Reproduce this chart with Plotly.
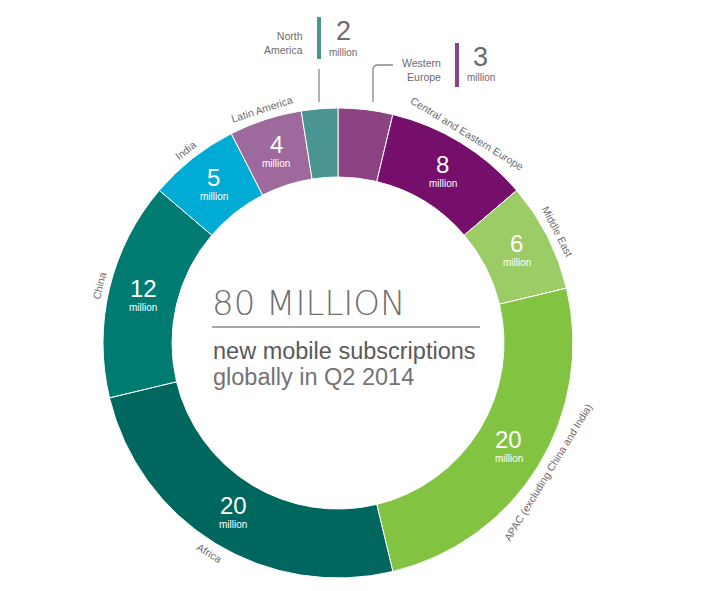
"""Donut chart: new mobile subscriptions by region, Q2 2014."""

import math

import plotly.graph_objects as go

regions = [
    "Western Europe",
    "Central and Eastern Europe",
    "Middle East",
    "APAC (excluding China and India)",
    "Africa",
    "China",
    "India",
    "Latin America",
    "North America",
]
subscriptions = [3, 8, 6, 20, 20, 12, 5, 4, 2]  # millions
colors = [
    "#8b4384",
    "#760f6b",
    "#9ccc65",
    "#82c341",
    "#00675f",
    "#007b72",
    "#00abd4",
    "#9e699d",
    "#4a9591",
]
# the two small slices get callouts above the ring instead of labels on it
callout_regions = ["North America", "Western Europe"]

W, H = 707, 591
CX, CY, R_OUT, R_IN = 338, 343, 235, 166
GREY = "#6b6b6b"
FONT = "Liberation Sans, Arial, sans-serif"


def px(x):
    return x / W


def py(y):
    return 1 - y / H


def label(x, y, text, size, color=GREY, **kw):
    d = dict(x=px(x), y=py(y), xref="paper", yref="paper", text=text,
             showarrow=False, xanchor="center", yanchor="middle",
             font=dict(family=FONT, size=size, color=color))
    d.update(kw)
    return d


fig = go.Figure(
    go.Pie(
        labels=regions,
        values=subscriptions,
        sort=False,
        direction="clockwise",
        rotation=0,
        hole=R_IN / R_OUT,
        marker=dict(colors=colors, line=dict(color="white", width=1)),
        textinfo="none",
        hoverinfo="label+value",
        showlegend=False,
        domain=dict(
            x=[px(CX - R_OUT), px(CX + R_OUT)],
            y=[py(CY + R_OUT), py(CY - R_OUT)],
        ),
    )
)

annotations = []
total = sum(subscriptions)
cum = 0
for name, val in zip(regions, subscriptions):
    mid = (cum + val / 2) / total * 360
    cum += val
    if name in callout_regions:
        continue
    rad = math.radians(mid)
    # value in the middle of the ring
    rm = (R_IN + R_OUT) / 2
    gx, gy = CX + rm * math.sin(rad), CY - rm * math.cos(rad)
    annotations.append(label(gx, gy - 8, str(val), 24, "white"))
    annotations.append(label(gx, gy + 11, "million", 10, "white"))
    # region name along the outside of the ring
    rl = R_OUT + 11
    lx, ly = CX + rl * math.sin(rad), CY - rl * math.cos(rad)
    angle = mid - 180 if 90 < mid < 270 else (mid if mid <= 90 else mid - 360)
    annotations.append(label(lx, ly, name, 10.5, textangle=angle))

# callouts for the two small slices
for name, val, bar_x, bar_y0, text_y in [
    ("North<br>America", 2, 319, 17, 43),
    ("Western<br>Europe", 3, 457, 43, 70),
]:
    annotations += [
        label(bar_x - 14, text_y, name, 10.5, xanchor="right", align="right"),
        label(bar_x + 24, bar_y0 + 14, str(val), 27),
        label(bar_x + 24, bar_y0 + 35, "million", 10),
    ]

shapes = [
    dict(type="line", xref="paper", yref="paper", x0=px(319), x1=px(319),
         y0=py(17), y1=py(59), line=dict(color=colors[8], width=4)),
    dict(type="line", xref="paper", yref="paper", x0=px(457), x1=px(457),
         y0=py(43), y1=py(87), line=dict(color=colors[0], width=4)),
    dict(type="line", xref="paper", yref="paper", x0=px(319), x1=px(319),
         y0=py(69), y1=py(102), line=dict(color="#888888", width=1.3)),
    dict(type="path", xref="paper", yref="paper",
         path=f"M {px(373)} {py(102)} L {px(373)} {py(70)} "
              f"Q {px(373)} {py(65)} {px(378)} {py(65)} L {px(393)} {py(65)}",
         line=dict(color="#888888", width=1.3)),
    # rule under the headline
    dict(type="line", xref="paper", yref="paper", x0=px(212), x1=px(480),
         y0=py(327), y1=py(327), line=dict(color="#8a8a8a", width=1.5)),
]

# headline in the hole
annotations += [
    label(210, 303, "80 MILLION", 34, xanchor="left",
          font=dict(family="DejaVu Sans, sans-serif", size=34, color="#707070", weight=200)),
    label(211, 351, "new mobile subscriptions", 23.5, "#5a5a5a", xanchor="left"),
    label(211, 377, "globally in Q2 2014", 23.5, "#737373", xanchor="left"),
]

fig.update_layout(
    width=W,
    height=H,
    margin=dict(l=0, r=0, t=0, b=0),
    paper_bgcolor="white",
    plot_bgcolor="white",
    annotations=annotations,
    shapes=shapes,
)

fig.write_html(
    "out.html",
    config={"displayModeBar": False},
    post_script="document.body.style.margin = '0';",
)
